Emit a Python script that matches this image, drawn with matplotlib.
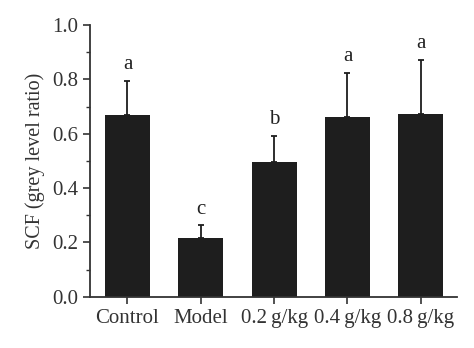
import numpy as np
import matplotlib.pyplot as plt
from matplotlib.ticker import MultipleLocator

# Values
groups = ["Control", "Model", "0.2\u2009g/kg", "0.4\u2009g/kg", "0.8\u2009g/kg"]
means = [0.669, 0.217, 0.495, 0.661, 0.673]
errors = [0.127, 0.046, 0.096, 0.162, 0.198]
letters = ["a", "c", "b", "a", "a"]

plt.rcParams['font.family'] = ['Liberation Serif', 'DejaVu Serif']

fig = plt.figure(figsize=(4.74, 3.48), dpi=100)
ax = fig.add_axes([0.19, 0.147, 0.7735, 0.781])

x = np.arange(len(groups))
ax.bar(x, means, width=0.614, color='#1e1e1e', zorder=2)
ax.errorbar(x, means, yerr=[np.zeros(len(errors)), errors], fmt='none',
            ecolor='#1e1e1e', elinewidth=1.3, capsize=2.5, capthick=1.3, zorder=3)

# Significance letters above each error bar
for xi, m, e, lab in zip(x, means, errors, letters):
    ax.text(xi, m + e + 0.025, lab, ha='center', va='bottom', fontsize=15, color='#222222')

ax.set_xlim(-0.51, 4.49)
ax.set_ylim(0, 1.0)
ax.set_xticks(x)
ax.set_xticklabels(groups)
ax.yaxis.set_major_locator(MultipleLocator(0.2))
ax.yaxis.set_minor_locator(MultipleLocator(0.1))
ax.yaxis.set_major_formatter(plt.FuncFormatter(lambda v, p: f"{v:.1f}"))
ax.set_ylabel("SCF (grey level ratio)", fontsize=14.5, color='#333333', labelpad=5)

for side in ['top', 'right']:
    ax.spines[side].set_visible(False)
for side in ['left', 'bottom']:
    ax.spines[side].set_linewidth(1.3)
    ax.spines[side].set_color('#333333')

ax.tick_params(axis='both', which='major', direction='out', length=5, width=1.2,
               labelsize=15, colors='#333333')
ax.tick_params(axis='y', which='minor', direction='out', length=3, width=1.0, colors='#333333')

fig.savefig("out.png", dpi=100)
